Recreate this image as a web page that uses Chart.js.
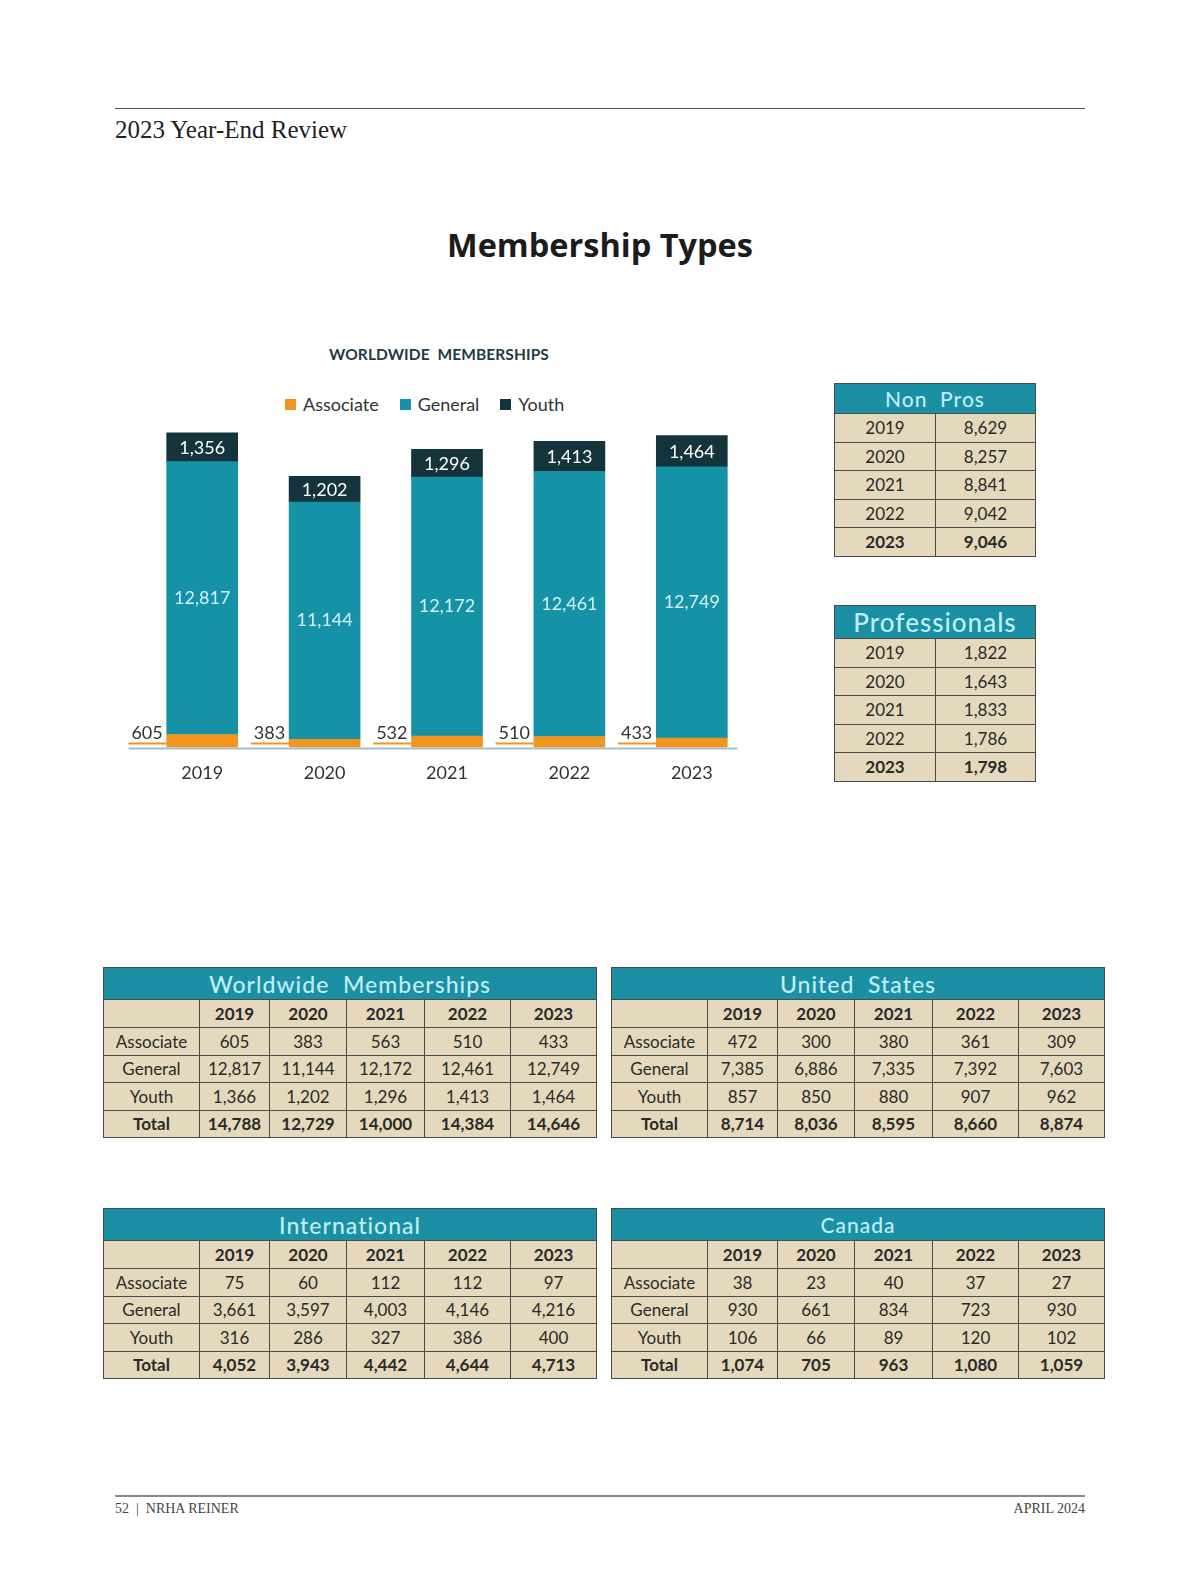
<!DOCTYPE html>
<html>
<head>
<meta charset="utf-8">
<script src="https://cdn.jsdelivr.net/npm/chart.js@4.4.0/dist/chart.umd.min.js"></script>
<style>
  body { margin: 0; background: #fff; width: 1200px; height: 1582px; position: relative; font-family: Lato, "Open Sans", sans-serif; color: #2b2b2b; }
  .rule { position: absolute; left: 115px; width: 970px; }
  .serif { position: absolute; font-family: "Liberation Serif", serif; }
  #pageTitle { position: absolute; left: 0; width: 1200px; top: 222px; text-align: center; font-family: "Open Sans", sans-serif; font-weight: 700; font-size: 32.5px; color: #1c1c1c; }
  #chartTitle { position: absolute; left: 239px; width: 400px; top: 345px; text-align: center; font-size: 15.5px; font-weight: 700; letter-spacing: 0.1px; color: #1d3b43; }
  #legend { position: absolute; left: 285px; top: 393px; display: flex; font-size: 18px; color: #333; }
  #legend .item { display: flex; align-items: center; margin-right: 21px; }
  #legend .box { width: 11px; height: 11px; margin-right: 7px; }
  #chartBox { position: absolute; left: 100px; top: 400px; width: 660px; height: 409px; }
  table { position: absolute; border-collapse: collapse; table-layout: fixed; background: #e4d9bd; border: 1.5px solid #3d3d3d; }
  td, th { border: 1px solid #4a4a4a; text-align: center; padding: 0; font-size: 17px; font-weight: 400; color: #2a2a2a; }
  th.head { background: #1b8fa3; color: #bfeef6; font-weight: 500; letter-spacing: 1px; }
  .bold td { font-weight: 700; }
  .yr td { font-weight: 700; }
</style>
</head>
<body>
<div class="rule" style="top:108px;border-top:1.5px solid #555;"></div>
<div class="serif" style="left:115px;top:116px;font-size:25px;color:#222;">2023 Year-End Review</div>
<div id="pageTitle">Membership Types</div>

<div id="chartTitle">WORLDWIDE&nbsp; MEMBERSHIPS</div>
<div id="legend"></div>
<div id="chartBox"><canvas id="memberChart"></canvas></div>

<div id="tables"></div>

<div class="rule" style="top:1495px;border-top:2px solid #888;"></div>
<div class="serif" style="left:115px;top:1501px;font-size:14px;color:#444;">52&nbsp; |&nbsp; NRHA REINER</div>
<div class="serif" style="right:115px;top:1501px;font-size:14px;color:#444;">APRIL 2024</div>

<script>
// chart data
const years = ['2019', '2020', '2021', '2022', '2023'];
const associate = [605, 383, 532, 510, 433];
const general = [12817, 11144, 12172, 12461, 12749];
const youth = [1356, 1202, 1296, 1413, 1464];

// side tables
const nonPros = [8629, 8257, 8841, 9042, 9046];
const professionals = [1822, 1643, 1833, 1786, 1798];

// region tables (associate, general, youth, total)
const rowNames = ['Associate', 'General', 'Youth', 'Total'];
const worldwideRows = [
    [605, 383, 563, 510, 433],
    [12817, 11144, 12172, 12461, 12749],
    [1366, 1202, 1296, 1413, 1464],
    [14788, 12729, 14000, 14384, 14646]
];
const usRows = [
    [472, 300, 380, 361, 309],
    [7385, 6886, 7335, 7392, 7603],
    [857, 850, 880, 907, 962],
    [8714, 8036, 8595, 8660, 8874]
];
const intlRows = [
    [75, 60, 112, 112, 97],
    [3661, 3597, 4003, 4146, 4216],
    [316, 286, 327, 386, 400],
    [4052, 3943, 4442, 4644, 4713]
];
const canadaRows = [
    [38, 23, 40, 37, 27],
    [930, 661, 834, 723, 930],
    [106, 66, 89, 120, 102],
    [1074, 705, 963, 1080, 1059]
];

const fmt = n => n.toLocaleString('en-US');
const tables = document.getElementById('tables');

function yearTable(title, values, left, top, headSize) {
    let html = `<table style="left:${left}px;top:${top}px;width:201px;">
        <colgroup><col style="width:101px"><col style="width:100px"></colgroup>
        <tr style="height:30px"><th class="head" colspan="2" style="font-size:${headSize}px">${title}</th></tr>`;
    values.forEach((v, i) => {
        const b = i === values.length - 1 ? ' class="bold"' : '';
        html += `<tr${b} style="height:28.5px"><td>${years[i]}</td><td>${fmt(v)}</td></tr>`;
    });
    tables.insertAdjacentHTML('beforeend', html + '</table>');
}

function regionTable(title, rows, left, top, headSize) {
    const widths = [96, 70, 77, 78, 86, 86];
    let html = `<table style="left:${left}px;top:${top}px;width:493px;"><colgroup>`;
    widths.forEach(w => html += `<col style="width:${w}px">`);
    html += `</colgroup><tr style="height:32px"><th class="head" colspan="6" style="font-size:${headSize}px">${title}</th></tr>`;
    html += '<tr class="yr" style="height:28px"><td></td>' + years.map(y => `<td>${y}</td>`).join('') + '</tr>';
    rows.forEach((r, i) => {
        const b = i === rows.length - 1 ? ' class="bold"' : '';
        html += `<tr${b} style="height:27.5px"><td>${rowNames[i]}</td>` + r.map(v => `<td>${fmt(v)}</td>`).join('') + '</tr>';
    });
    tables.insertAdjacentHTML('beforeend', html + '</table>');
}

yearTable('Non&nbsp; Pros', nonPros, 834, 383, 21);
yearTable('Professionals', professionals, 834, 605, 26);
regionTable('Worldwide&nbsp; Memberships', worldwideRows, 103, 967, 23);
regionTable('United&nbsp; States', usRows, 611, 967, 23);
regionTable('International', intlRows, 103, 1208, 23);
regionTable('Canada', canadaRows, 611, 1208, 21);

// labels inside / beside the bars, plus the base line
const barLabels = {
    id: 'barLabels',
    afterDatasetsDraw(chart) {
        const ctx = chart.ctx;
        const assocMeta = chart.getDatasetMeta(0);
        const genMeta = chart.getDatasetMeta(1);
        const youthMeta = chart.getDatasetMeta(2);
        ctx.save();
        ctx.font = '18px Lato, "Open Sans", sans-serif';
        ctx.textBaseline = 'middle';

        // base line
        const first = assocMeta.data[0];
        const last = assocMeta.data[assocMeta.data.length - 1];
        const baseY = first.base;
        ctx.strokeStyle = '#a8bec6';
        ctx.lineWidth = 2;
        ctx.beginPath();
        ctx.moveTo(first.x - first.width / 2 - 38, baseY + 1);
        ctx.lineTo(last.x + last.width / 2 + 10, baseY + 1);
        ctx.stroke();

        assocMeta.data.forEach((bar, i) => {
            const left = bar.x - bar.width / 2;
            const txt = fmt(associate[i]);
            const w = ctx.measureText(txt).width;
            ctx.fillStyle = '#333';
            ctx.textAlign = 'right';
            ctx.fillText(txt, left - 4, bar.base - 14);
            ctx.strokeStyle = '#f0961e';
            ctx.lineWidth = 2;
            ctx.beginPath();
            ctx.moveTo(left - w - 7, bar.base - 4);
            ctx.lineTo(left, bar.base - 4);
            ctx.stroke();
        });
        ctx.textAlign = 'center';
        genMeta.data.forEach((bar, i) => {
            ctx.fillStyle = '#d3f2f7';
            ctx.fillText(fmt(general[i]), bar.x, (bar.y + bar.base) / 2);
        });
        youthMeta.data.forEach((bar, i) => {
            ctx.fillStyle = '#ffffff';
            ctx.fillText(fmt(youth[i]), bar.x, (bar.y + bar.base) / 2 + 1);
        });
        ctx.restore();
    }
};

const ctx = document.getElementById('memberChart').getContext('2d');
const chart = new Chart(ctx, {
    type: 'bar',
    data: {
        labels: years,
        datasets: [
            { label: 'Associate', data: associate, backgroundColor: '#f0961e' },
            { label: 'General', data: general, backgroundColor: '#1592a6' },
            { label: 'Youth', data: youth, backgroundColor: '#15333b' }
        ]
    },
    options: {
        responsive: true,
        maintainAspectRatio: false,
        animation: false,
        layout: { padding: { left: 41, right: 7, top: 10, bottom: 10 } },
        datasets: { bar: { barThickness: 71, borderWidth: 0 } },
        scales: {
            x: {
                stacked: true,
                grid: { display: false, drawTicks: false },
                border: { display: false },
                ticks: { color: '#333', font: { family: 'Lato, "Open Sans", sans-serif', size: 18 }, padding: 15 }
            },
            y: {
                stacked: true,
                display: false,
                min: 0,
                max: 15850
            }
        },
        plugins: {
            legend: { display: false },
            tooltip: { enabled: false }
        }
    },
    plugins: [barLabels]
});

// html legend built from the datasets
const legend = document.getElementById('legend');
chart.data.datasets.forEach(ds => {
    legend.insertAdjacentHTML('beforeend',
        `<div class="item"><span class="box" style="background:${ds.backgroundColor}"></span>${ds.label}</div>`);
});
</script>
</body>
</html>
